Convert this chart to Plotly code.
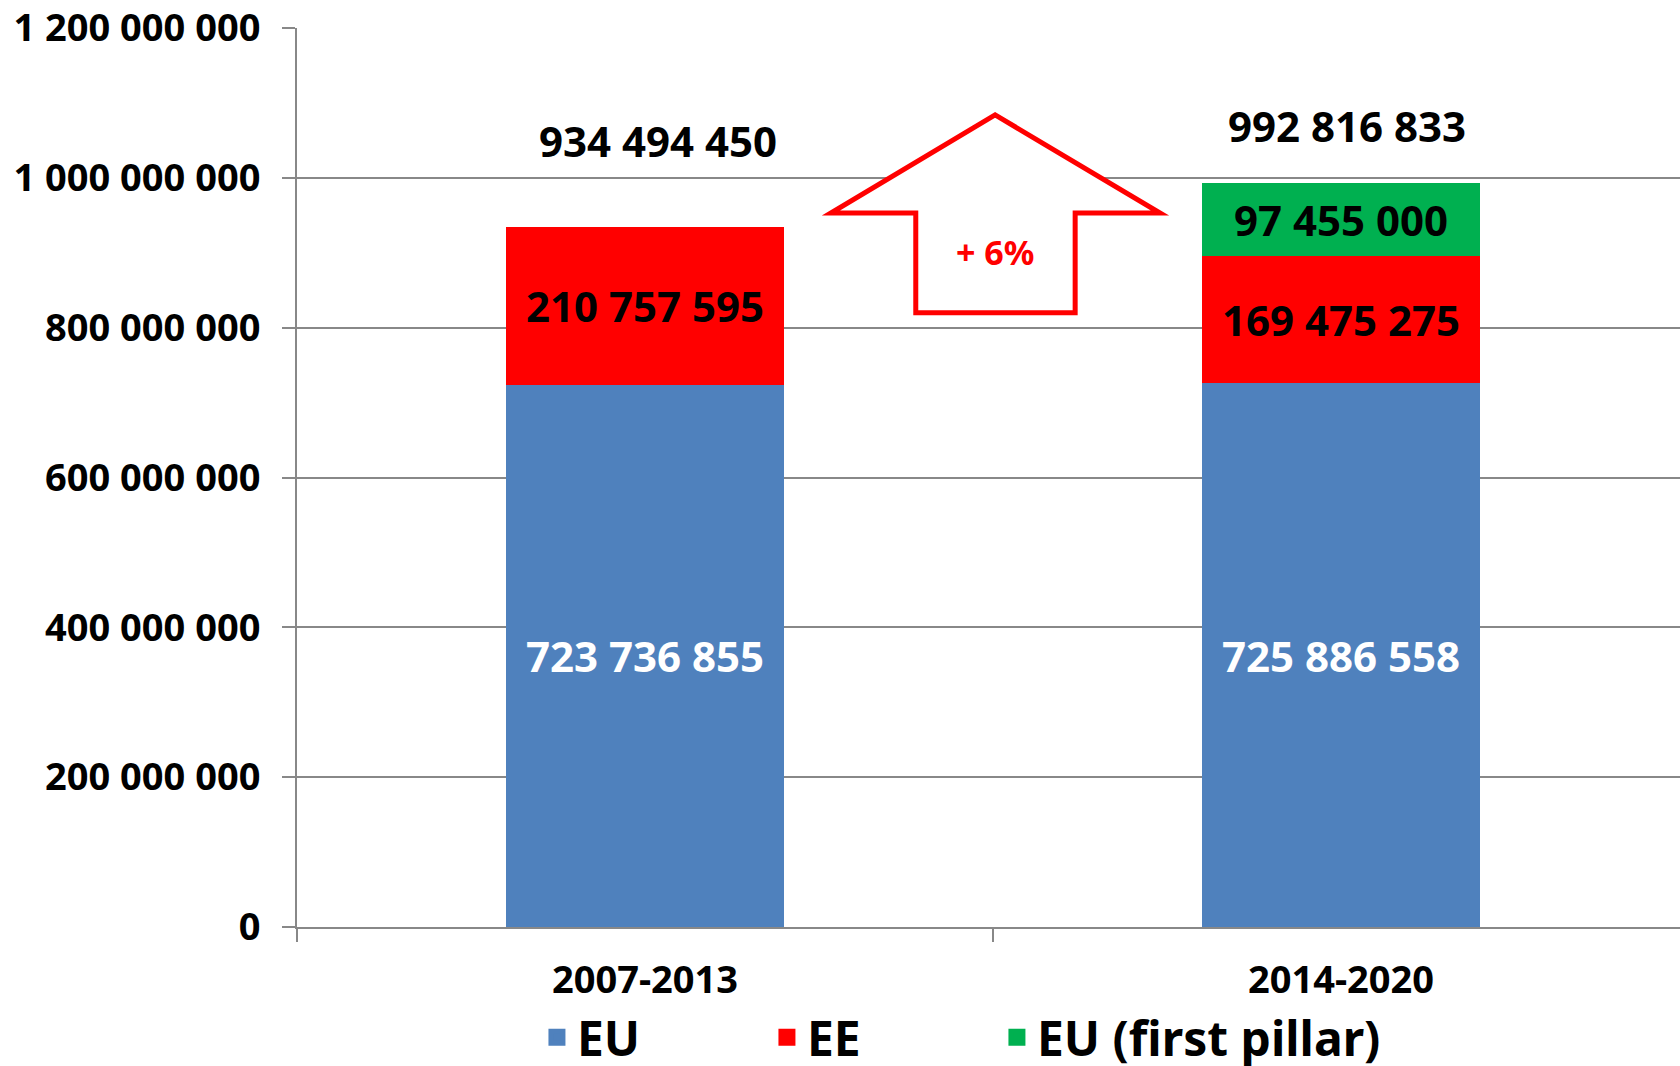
import plotly.graph_objects as go

# ---- data ----
periods = ["2007-2013", "2014-2020"]
eu_values = [723736855, 725886558]
ee_values = [210757595, 169475275]
eu_first_pillar_values = [None, 97455000]
series_names = ["EU", "EE", "EU (first pillar)"]
y_tick_values = [0, 200000000, 400000000, 600000000, 800000000, 1000000000, 1200000000]

totals = [sum(v for v in vals if v is not None)
          for vals in zip(eu_values, ee_values, eu_first_pillar_values)]
growth_pct = round((totals[1] / totals[0] - 1) * 100)

FONT = "Noto Sans Condensed, Liberation Sans Narrow, Noto Sans, sans-serif"
GRID = "#888888"
colors = ["#4F81BD", "#FF0000", "#00B050"]
text_colors = ["white", "black", "black"]
legend_ids = ["legend", "legend2", "legend3"]
legend_x = [0.1735, 0.3398, 0.5061]

def f(size, color="black", weight="bold"):
    return dict(family=FONT, size=size, color=color, weight=weight)

fig = go.Figure()
for name, vals, col, tcol in zip(series_names,
                                 [eu_values, ee_values, eu_first_pillar_values],
                                 colors, text_colors):
    fig.add_trace(go.Bar(
        x=periods, y=vals, name=name, showlegend=False,
        marker=dict(color=col, line=dict(width=0)),
        texttemplate="%{y:,}", textposition="inside", insidetextanchor="middle",
        constraintext="none", textangle=0,
        textfont=f(42, tcol),
        hoverinfo="skip",
    ))

# legend entries (no data; larger swatches)
for name, col, lg in zip(series_names, colors, legend_ids):
    fig.add_trace(go.Bar(
        x=[None], y=[None], name=name, legend=lg, showlegend=True,
        marker=dict(color=col, line=dict(color=col, width=10)),
        hoverinfo="skip",
    ))

label_shift = [(13, 86), (6, 58)]
for i, (p, t) in enumerate(zip(periods, totals)):
    fig.add_annotation(x=i, y=t, text=f"{t:,}".replace(",", " "), showarrow=False,
                       xshift=label_shift[i][0], yshift=label_shift[i][1],
                       font=f(42))

arrow_pts = [(0.503, 1.084e9), (0.740, 0.953e9), (0.618, 0.953e9), (0.618, 0.820e9),
             (0.389, 0.820e9), (0.389, 0.953e9), (0.267, 0.953e9)]
path = "M " + " L ".join(f"{x},{y}" for x, y in arrow_pts) + " Z"
fig.add_shape(type="path", path=path, xref="x", yref="y",
              line=dict(color="#FF0000", width=5), fillcolor="white", layer="above")
fig.add_annotation(x=0.503, y=0.901e9, text=f"+ {growth_pct}%", showarrow=False,
                   font=f(34, "#FF0000"))

legend_common = dict(orientation="h", xanchor="left", y=-0.123, yanchor="middle",
                     font=f(48), bgcolor="rgba(0,0,0,0)",
                     itemclick=False, itemdoubleclick=False)

fig.update_layout(
    width=1680, height=1066, autosize=False,
    margin=dict(l=297, r=0, t=28, b=139, autoexpand=False),
    barmode="stack", bargap=0.6,
    separators=". ",
    plot_bgcolor="white", paper_bgcolor="white",
    showlegend=True,
    legend=dict(x=legend_x[0], **legend_common),
    legend2=dict(x=legend_x[1], **legend_common),
    legend3=dict(x=legend_x[2], **legend_common),
    xaxis=dict(type="category", range=[-0.5, 1.487], showline=True, linecolor=GRID,
               linewidth=2, ticks="outside", tickson="boundaries", ticklen=13,
               tickcolor=GRID, tickwidth=2, showgrid=False, ticklabelstandoff=18,
               automargin=False, tickfont=f(38)),
    yaxis=dict(range=[0, 1.2e9], tickvals=y_tick_values, tickformat=",",
               showgrid=True, gridcolor=GRID, gridwidth=2, zeroline=False,
               showline=True, linecolor=GRID, linewidth=2, ticks="outside",
               ticklen=13, tickcolor=GRID, tickwidth=2, ticklabelstandoff=14,
               ticklabeloverflow="allow", automargin=False, tickfont=f(38)),
)

fig.write_html("out.html", config={"displayModeBar": False},
               post_script="document.body.style.margin='0';document.body.style.overflow='hidden';")
